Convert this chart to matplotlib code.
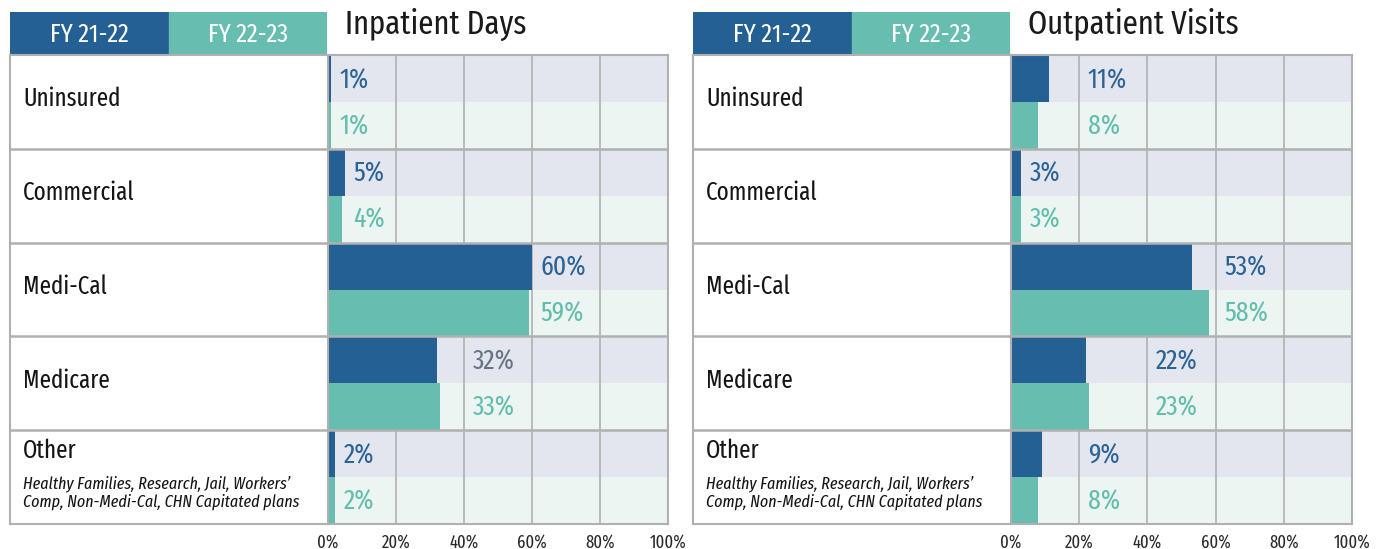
import numpy as np
import matplotlib
matplotlib.use("Agg")
import matplotlib.pyplot as plt

plt.rcParams["font.family"] = ["Fira Sans Extra Condensed", "Roboto Condensed", "DejaVu Sans"]

FIG_W, FIG_H = 1382, 549

# data
categories = ["Uninsured", "Commercial", "Medi-Cal", "Medicare", "Other"]
other_note = "Healthy Families, Research, Jail, Workers’\nComp, Non-Medi-Cal, CHN Capitated plans"
series_names = ["FY 21-22", "FY 22-23"]
panel_titles = ["Inpatient Days", "Outpatient Visits"]
inpatient_fy2122 = [1, 5, 60, 32, 2]
inpatient_fy2223 = [1, 4, 59, 33, 2]
outpatient_fy2122 = [11, 3, 53, 22, 9]
outpatient_fy2223 = [8, 3, 58, 23, 8]
x_ticks = [0, 20, 40, 60, 80, 100]
x_tick_labels = ["0%", "20%", "40%", "60%", "80%", "100%"]

# colours
DARK = "#246093"
TEAL = "#67bdaf"
DARK_TXT = "#2b6397"
TEAL_TXT = "#62bdac"
GREY_TXT = "#677483"
BG_TOP = "#e3e6ef"
BG_BOT = "#edf5f3"
LINE = "#b0b0b0"


def px_axes(fig, x0, y0, w, h):
    return fig.add_axes([x0 / FIG_W, 1 - (y0 + h) / FIG_H, w / FIG_W, h / FIG_H])


def label_x(top):
    # value labels sit just past the bar, or past the next grid line for longer bars
    if top < 6:
        return top + 2.5
    return np.ceil(top / 20) * 20 + 2.5


def draw_panel(fig, left, split, right, title, first, second, grey_rows=()):
    n = len(categories)

    # legend header
    head = px_axes(fig, left, 12, split - left - 1, 43)
    head.set_xlim(0, 2)
    head.set_ylim(0, 1)
    head.axis("off")
    for i, (name, col) in enumerate(zip(series_names, [DARK, TEAL])):
        head.add_patch(plt.Rectangle((i, 0), 1, 1, color=col))
        head.text(i + 0.5, 0.47, name, color="white", fontsize=19,
                  ha="center", va="center")
    fig.text((split + 17) / FIG_W, 1 - 24 / FIG_H, title, fontsize=24,
             ha="left", va="center", color="#1a1a1a")

    # category column
    lab = px_axes(fig, left, 55, split - left, 469)
    lab.set_xlim(0, 1)
    lab.set_ylim(n, 0)
    lab.set_xticks([])
    lab.set_yticks([])
    for s in lab.spines.values():
        s.set_color(LINE)
        s.set_linewidth(1.5)
    lab.spines["right"].set_visible(False)
    tx = 13 / (split - left)
    for i, cat in enumerate(categories):
        if cat == "Other":
            lab.text(tx, i + 0.22, cat, fontsize=18, ha="left", va="center",
                     color="#151515")
            lab.text(tx, i + 0.67, other_note, fontsize=12.5, style="italic",
                     ha="left", va="center", color="#151515", linespacing=1.15)
        else:
            lab.text(tx, i + 0.47, cat, fontsize=18, ha="left", va="center",
                     color="#151515")
    for y in range(1, n):
        lab.axhline(y, color=LINE, lw=1.8)

    # bars
    ax = px_axes(fig, split, 55, right - split, 469)
    ax.set_xlim(0, 100)
    ax.set_ylim(n, 0)
    idx = np.arange(n)
    for i in idx:
        ax.axhspan(i, i + 0.5, color=BG_TOP, lw=0, zorder=0.1)
        ax.axhspan(i + 0.5, i + 1, color=BG_BOT, lw=0, zorder=0.1)
    ax.barh(idx, first, height=0.5, align="edge", color=DARK, zorder=2)
    ax.barh(idx + 0.5, second, height=0.5, align="edge", color=TEAL, zorder=2)
    for i in idx:
        lx = label_x(max(first[i], second[i]))
        c1 = GREY_TXT if i in grey_rows else DARK_TXT
        ax.text(lx, i + 0.27, f"{first[i]}%", color=c1, fontsize=20,
                ha="left", va="center", zorder=3)
        ax.text(lx, i + 0.76, f"{second[i]}%", color=TEAL_TXT, fontsize=20,
                ha="left", va="center", zorder=3)
    for y in range(1, n):
        ax.axhline(y, color=LINE, lw=1.8, zorder=2.5)

    ax.set_xticks(x_ticks)
    ax.set_xticklabels(x_tick_labels)
    ax.set_yticks([])
    ax.tick_params(axis="x", length=0, pad=7, labelsize=13, labelcolor="#2a2a2a")
    ax.set_axisbelow(True)
    ax.xaxis.grid(True, color=LINE, lw=1.2, zorder=0.5)
    for s in ax.spines.values():
        s.set_color(LINE)
        s.set_linewidth(1.5)


fig = plt.figure(figsize=(FIG_W / 100, FIG_H / 100), dpi=100)
draw_panel(fig, 10, 328, 668, panel_titles[0], inpatient_fy2122, inpatient_fy2223,
           grey_rows=(3,))
draw_panel(fig, 693, 1011, 1352, panel_titles[1], outpatient_fy2122, outpatient_fy2223)
fig.savefig("out.png", dpi=100)
